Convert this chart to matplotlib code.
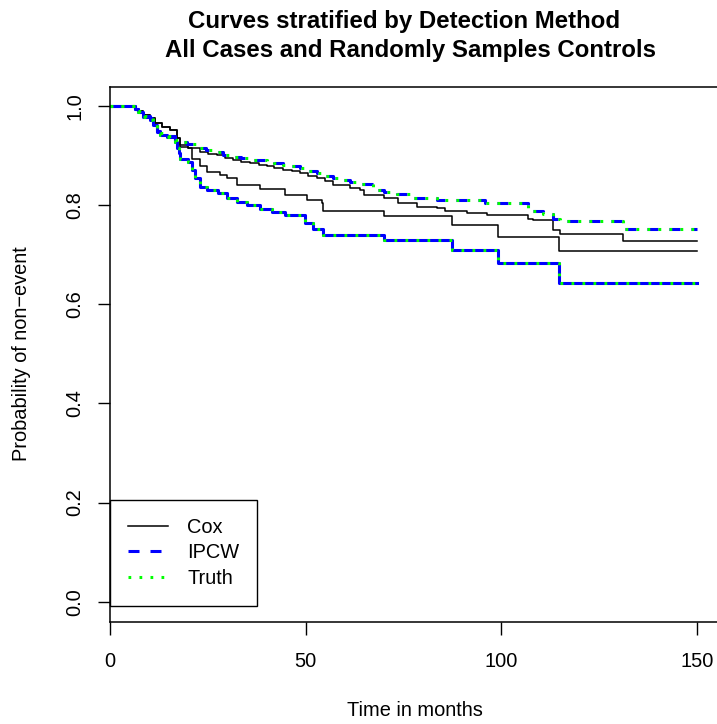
import matplotlib
matplotlib.use("Agg")
import matplotlib.pyplot as plt

plt.rcParams['font.family'] = ['Liberation Sans', 'DejaVu Sans']

# ---- data ----
t_upper = [0, 6.4, 7.2, 8.5, 10.2, 11.1, 11.9, 12.8, 14.5, 16.6, 17.5, 19.6, 22.2, 24.5, 26.4, 29, 31.5,
           33.5, 35.8, 40, 42, 44.3, 46.5, 48.6, 50.5, 52.8, 55, 57.1, 59, 61.3, 63.9, 67.2, 70, 73.3,
           77.5, 83.5, 95.8, 106.9, 110.7, 113.3, 115, 131, 150]
s_upper = [1.0, 0.994, 0.989, 0.980, 0.975, 0.965, 0.950, 0.945, 0.940, 0.932, 0.928, 0.923, 0.915,
           0.911, 0.907, 0.902, 0.898, 0.895, 0.891, 0.888, 0.885, 0.881, 0.878, 0.874, 0.869, 0.864,
           0.859, 0.854, 0.851, 0.847, 0.842, 0.831, 0.827, 0.822, 0.814, 0.810, 0.804, 0.789, 0.782,
           0.772, 0.767, 0.751, 0.751]

t_lower = [0, 6.4, 7.2, 8.5, 10.2, 11.1, 11.9, 12.8, 14.5, 16.6, 17.2, 17.6, 18, 20, 20.9, 21.7, 23,
           24.7, 27.7, 29.8, 32.4, 35, 38.3, 41.5, 44.7, 49.8, 52, 54.5, 69.9, 87.3, 99.2, 114.7, 150]
s_lower = [1.0, 0.993, 0.987, 0.978, 0.972, 0.962, 0.947, 0.942, 0.937, 0.928, 0.915, 0.905, 0.893,
           0.888, 0.871, 0.854, 0.837, 0.831, 0.824, 0.814, 0.807, 0.801, 0.792, 0.787, 0.780, 0.763,
           0.752, 0.740, 0.730, 0.709, 0.684, 0.642, 0.642]

t_cox_a = [0, 6.4, 7.2, 8.5, 10.2, 11.5, 13.2, 15.3, 17.0, 17.9, 20, 23, 25, 27.3, 29.5, 31.5, 33.5,
           35.8, 38, 40, 42, 44.3, 46.5, 48.6, 50.5, 52.8, 55, 57.1, 61.3, 63.9, 64.8, 69.9, 73.6,
           78.4, 83.5, 85.6, 91.2, 96.3, 106.9, 108.2, 113.3, 115, 131, 150]
s_cox_a = [1.0, 0.994, 0.989, 0.981, 0.976, 0.965, 0.958, 0.951, 0.935, 0.921, 0.915, 0.908, 0.904,
           0.901, 0.896, 0.891, 0.887, 0.884, 0.881, 0.879, 0.875, 0.871, 0.868, 0.864, 0.859, 0.854,
           0.848, 0.841, 0.834, 0.831, 0.820, 0.814, 0.804, 0.797, 0.794, 0.788, 0.785, 0.781, 0.772,
           0.769, 0.750, 0.741, 0.728, 0.728]

t_cox_b = [0, 6.4, 7.2, 8.5, 10.2, 11.5, 13.2, 15.3, 17.0, 17.9, 20, 20.9, 23, 24.7, 28.1, 29.8, 32.4,
           38.3, 44.7, 50.3, 54.1, 54.5, 69.9, 87.3, 99.2, 114.7, 150]
s_cox_b = [1.0, 0.994, 0.989, 0.981, 0.976, 0.965, 0.958, 0.951, 0.935, 0.918, 0.915, 0.894, 0.878,
           0.867, 0.861, 0.854, 0.841, 0.833, 0.820, 0.810, 0.804, 0.788, 0.778, 0.760, 0.736, 0.708,
           0.708]

x_ticks = [0, 50, 100, 150]
y_ticks = [0.0, 0.2, 0.4, 0.6, 0.8, 1.0]
legend_labels = ["Cox", "IPCW", "Truth"]
title_lines = ["Curves stratified by Detection Method", "All Cases and Randomly Samples Controls"]

W, H = 717, 724
AX_L, AX_R, AX_T, AX_B = 110, 730, 87, 622
fig = plt.figure(figsize=(W / 100, H / 100), dpi=100)
ax = fig.add_axes([AX_L / W, (H - AX_B) / H, (AX_R - AX_L) / W, (AX_B - AX_T) / H])

lw_thin = 1.1
lw_thick = 2.2

l_cox, = ax.step(t_cox_a, s_cox_a, where='post', color='black', lw=lw_thin)
ax.step(t_cox_b, s_cox_b, where='post', color='black', lw=lw_thin)

l_ipcw, = ax.step(t_upper, s_upper, where='post', color='#0000FF', lw=lw_thick,
                  dashes=(3.6, 3.6), dash_capstyle='butt')
ax.step(t_lower, s_lower, where='post', color='#0000FF', lw=lw_thick)

l_truth, = ax.step(t_upper, s_upper, where='post', color='#00FF00', lw=lw_thick,
                   dashes=(0.9, 2.7), dash_capstyle='butt')
ax.step(t_lower, s_lower, where='post', color='#00FF00', lw=lw_thick,
        dashes=(0.9, 2.7), dash_capstyle='butt')

px_per_month = (697 - 110) / 150
ax.set_xlim(0, (AX_R - AX_L) / px_per_month)
ax.set_ylim(-0.041, 1.0383)
ax.set_xticks(x_ticks)
ax.set_xticklabels([str(v) for v in x_ticks])
ax.set_yticks(y_ticks)
ax.set_yticklabels([f"{v:.1f}" for v in y_ticks])

for sp in ax.spines.values():
    sp.set_linewidth(1.1)
    sp.set_color('black')

ax.tick_params(axis='both', direction='out', length=9, width=1.0, labelsize=14.4, colors='black')
ax.tick_params(axis='x', pad=12.5)
ax.tick_params(axis='y', pad=9.4, labelrotation=90)
for lab in ax.get_yticklabels():
    lab.set_va('center')

axw = AX_R - AX_L
axh = AX_B - AX_T
ax.set_xlabel("Time in months", fontsize=14.4)
ax.xaxis.set_label_coords((415 - AX_L) / axw, (AX_B - 701) / axh)
ax.set_ylabel("Probability of non\u2212event", fontsize=14.4)
ax.yaxis.set_label_coords((31 - AX_L) / axw, (AX_B - 354) / axh)

fig.text(404 / W, 1 - 28.3 / H, title_lines[0], ha='center', va='baseline',
         fontsize=17.3, fontweight='bold')
fig.text(410 / W, 1 - 56.7 / H, title_lines[1], ha='center', va='baseline',
         fontsize=17.3, fontweight='bold')

leg = ax.legend([l_cox, l_ipcw, l_truth], legend_labels, loc='lower left',
                bbox_to_anchor=(0, (AX_B - 606) / axh), borderaxespad=0,
                fontsize=14.4, handlelength=2.0, handletextpad=0.95,
                borderpad=0.9, labelspacing=0.33, fancybox=False, framealpha=1,
                edgecolor='black')
leg.get_frame().set_linewidth(1.0)

fig.savefig("out.png", dpi=100)
